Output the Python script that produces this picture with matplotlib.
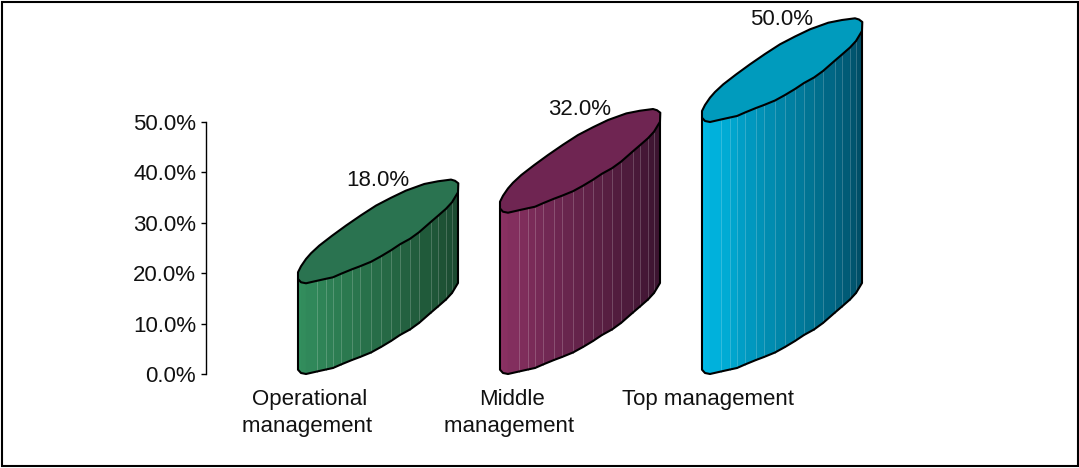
#!/usr/bin/env python3
"""
Share of respondents by management level, drawn as slanted 3D-look columns.
Saves: out.png
"""

import numpy as np
import matplotlib
matplotlib.use("Agg")
import matplotlib.pyplot as plt
from matplotlib.colors import to_rgb
from matplotlib.patches import Polygon, Rectangle

plt.rcParams["font.family"] = ["Liberation Sans", "DejaVu Sans"]

CATEGORIES = ["Operational\nmanagement ", "Middle\nmanagement ", "Top management"]
VALUES = [18.0, 32.0, 50.0]
TICKS = [0, 10, 20, 30, 40, 50]

CAP_COLORS = ["#2a7350", "#6f2552", "#009bbd"]
SIDE_LIGHT = ["#33905f", "#8c3264", "#00bdea"]
SIDE_DARK = ["#1b4a30", "#3c1430", "#004f68"]

FONT = 16
DPI = 100
FIG_W, FIG_H = 1079, 468

# axes box in pixels, measured from the top left corner
AX_LEFT, AX_RIGHT, AX_TOP, AX_BOTTOM = 206, 900, 122, 374
BAR_STEP = 202  # pixels between neighbouring columns
FIRST_BAR = 298

# pixel -> data scale factors
PX_X = 1 / BAR_STEP
PX_Y = 50 / (AX_BOTTOM - AX_TOP)

# column cross-section in pixels (dx, dy up) relative to the column's corner
FRONT_EDGE = np.array([
    (0, 4.3), (3, 1), (8, 0), (19, 2.5), (28, 4.5), (35, 6), (43, 9.5),
    (54, 14), (62, 17), (73, 21.5), (83, 27), (93, 33), (102, 39),
    (112, 44.5), (121, 51), (133, 61.5), (140, 67.5), (148, 74.5),
    (154, 81), (160, 91),
])
BACK_EDGE = np.array([
    (160.3, 100), (157, 102.5), (153, 103.7), (140, 102), (126.3, 99.3),
    (108, 92.7), (93, 85.5), (78, 77.7), (63, 68), (48, 57.7), (34, 47.5),
    (21.3, 37.7), (13, 30), (8, 24.3), (3, 17), (0, 11),
])

LABEL_DX = [12, 12, 6.5]   # category label centre from the column's left edge
TEXT_RISE = 103            # value label centre above the column height


def draw_column(ax, pos, value, cap, light, dark):
    fx = pos + FRONT_EDGE[:, 0] * PX_X
    fy = value + FRONT_EDGE[:, 1] * PX_Y
    base = FRONT_EDGE[:, 1] * PX_Y

    # shaded strips along the curved side, getting darker to the right
    c0, c1 = np.array(to_rgb(light)), np.array(to_rgb(dark))
    n = len(fx) - 1
    for i in range(n):
        col = c0 + (c1 - c0) * (i / (n - 1))
        strip = [(fx[i], base[i]), (fx[i + 1], base[i + 1]),
                 (fx[i + 1], fy[i + 1]), (fx[i], fy[i])]
        ax.add_patch(Polygon(strip, closed=True, fc=col, ec=col, lw=0.3,
                             zorder=2, clip_on=False))
        if i >= 3:
            ax.plot([fx[i], fx[i]], [base[i], fy[i]],
                    color=tuple(col + (1 - col) * 0.2), lw=0.7, zorder=2.5,
                    solid_capstyle="butt", clip_on=False)

    # side outline
    side = list(zip(fx, base)) + [(fx[-1], fy[-1]), (fx[0], fy[0])]
    ax.add_patch(Polygon(side, closed=True, fc="none", ec="black", lw=1.5,
                         joinstyle="round", zorder=3, clip_on=False))

    # top face
    top = list(zip(fx, fy)) + [(pos + dx * PX_X, value + dy * PX_Y)
                               for dx, dy in BACK_EDGE]
    ax.add_patch(Polygon(top, closed=True, fc=cap, ec="black", lw=1.5,
                         joinstyle="round", zorder=4, clip_on=False))


def main():
    fig = plt.figure(figsize=(FIG_W / DPI, FIG_H / DPI), dpi=DPI, facecolor="white")
    ax = fig.add_axes([AX_LEFT / FIG_W, 1 - AX_BOTTOM / FIG_H,
                       (AX_RIGHT - AX_LEFT) / FIG_W, (AX_BOTTOM - AX_TOP) / FIG_H])
    ax.set_xlim((AX_LEFT - FIRST_BAR) / BAR_STEP, (AX_RIGHT - FIRST_BAR) / BAR_STEP)
    ax.set_ylim(0, 50)
    ax.patch.set_visible(False)

    for s in ("top", "right", "bottom"):
        ax.spines[s].set_visible(False)
    ax.spines["left"].set_linewidth(1.0)
    ax.set_xticks([])
    ax.set_yticks(TICKS)
    ax.set_yticklabels([f"{t:.1f}%" for t in TICKS], fontsize=FONT, color="#111111")
    ax.tick_params(axis="y", length=3.6, width=1.0, pad=3.6)

    for i, val in enumerate(VALUES):
        draw_column(ax, i, val, CAP_COLORS[i], SIDE_LIGHT[i], SIDE_DARK[i])
        ax.text(i + 80 * PX_X, val + TEXT_RISE * PX_Y, f"{val:.1f}%",
                ha="center", va="center", fontsize=FONT, color="#111111", zorder=5)
        ax.annotate(CATEGORIES[i], xy=(i + LABEL_DX[i] * PX_X, 0), xytext=(0, -15),
                    textcoords="offset pixels", ha="center", va="top",
                    fontsize=FONT, color="#111111", linespacing=1.36,
                    annotation_clip=False)

    # outer frame
    fig.add_artist(Rectangle((1.5 / FIG_W, 2 / FIG_H), (FIG_W - 3) / FIG_W,
                             (FIG_H - 3.5) / FIG_H, transform=fig.transFigure,
                             fc="none", ec="black", lw=1.5))

    fig.savefig("out.png", dpi=DPI, facecolor="white")
    plt.close(fig)


if __name__ == "__main__":
    main()
